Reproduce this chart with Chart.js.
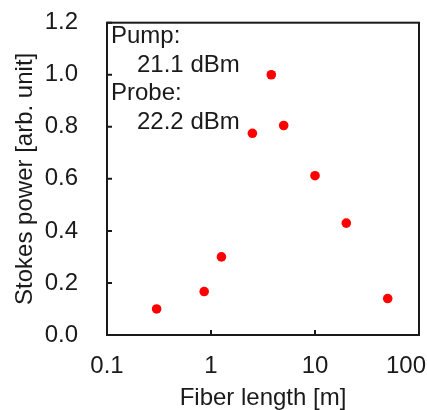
<!DOCTYPE html>
<html>
<head>
<meta charset="utf-8">
<script src="https://cdn.jsdelivr.net/npm/chart.js@4.4.1/dist/chart.umd.min.js"></script>
<style>
  html, body { margin: 0; padding: 0; background: #fff; }
  #wrap { width: 427px; height: 410px; }
</style>
</head>
<body>
<div id="wrap"><canvas id="stokesChart"></canvas></div>
<script>
// fiber length [m] and measured Stokes power
var fiberLength = [0.3, 0.86, 1.26, 2.5, 3.8, 5.0, 10, 20, 50];
var stokesPower = [0.10, 0.167, 0.30, 0.775, 1.0, 0.805, 0.612, 0.43, 0.14];
var xTicks = [0.1, 1, 10, 100];
var yTicks = [0, 0.2, 0.4, 0.6, 0.8, 1.0, 1.2];
var noteLines = ["Pump:", "21.1 dBm", "Probe:", "22.2 dBm"];

var fontFam = "'Liberation Sans', Arial, sans-serif";
var fontSize = 24;
var ink = '#1a1a1a';

// frame around the plot area plus inward tick marks
var frame = {
    id: 'frame',
    afterDatasetsDraw: function(chart) {
        var c = chart.ctx, a = chart.chartArea;
        var xs = chart.scales.x, ys = chart.scales.y;
        c.save();
        c.strokeStyle = ink;
        c.lineWidth = 2;
        c.beginPath();
        xTicks.forEach(function(v) {
            var px = xs.getPixelForValue(v);
            c.moveTo(px, a.bottom);
            c.lineTo(px, a.bottom - 5);
        });
        yTicks.forEach(function(v) {
            var py = ys.getPixelForValue(v);
            c.moveTo(a.left, py);
            c.lineTo(a.left + 5, py);
        });
        c.stroke();
        c.strokeRect(a.left, a.top, a.right - a.left, a.bottom - a.top);

        // x labels, kept inside the canvas at the right end
        c.fillStyle = ink;
        c.font = fontSize + 'px ' + fontFam;
        c.textBaseline = 'middle';
        c.textAlign = 'center';
        xTicks.forEach(function(v) {
            var t = String(v);
            var w = c.measureText(t).width;
            var px = Math.min(xs.getPixelForValue(v), chart.width - 1 - w / 2);
            c.fillText(t, px, a.bottom + 31);
        });
        c.restore();
    }
};

// pump / probe power note in the upper left corner
var note = {
    id: 'note',
    afterDraw: function(chart) {
        var c = chart.ctx, a = chart.chartArea;
        c.save();
        c.fillStyle = ink;
        c.font = fontSize + 'px ' + fontFam;
        c.textBaseline = 'middle';
        var indent = [0, 26, 0, 26];
        noteLines.forEach(function(t, i) {
            c.fillText(t, a.left + 4 + indent[i], a.top + 14 + i * 28.5);
        });
        c.restore();
    }
};

new Chart(document.getElementById('stokesChart').getContext('2d'), {
    type: 'scatter',
    data: {
        datasets: [{
            data: fiberLength.map(function(x, i) { return {x: x, y: stokesPower[i]}; }),
            backgroundColor: '#ff0000',
            borderColor: '#ff0000',
            pointRadius: 4.8,
            pointHoverRadius: 4.8,
            borderWidth: 0
        }]
    },
    options: {
        responsive: true,
        maintainAspectRatio: false,
        animation: false,
        layout: { padding: { left: 0, right: 8, top: 22.7, bottom: 0 } },
        plugins: {
            legend: { display: false },
            tooltip: { enabled: false }
        },
        scales: {
            x: {
                type: 'logarithmic',
                min: 0.1,
                max: 100,
                afterBuildTicks: function(s) { s.ticks = xTicks.map(function(v) { return {value: v}; }); },
                afterFit: function(s) { s.height = 75; s.paddingLeft = 0; s.paddingRight = 0; },
                grid: { display: false },
                border: { display: false },
                ticks: { display: false },
                title: {
                    display: true,
                    text: 'Fiber length [m]',
                    color: ink,
                    font: { family: fontFam, size: fontSize },
                    padding: { top: 0, bottom: -3 }
                }
            },
            y: {
                min: 0,
                max: 1.2,
                afterBuildTicks: function(s) { s.ticks = yTicks.map(function(v) { return {value: v}; }); },
                afterFit: function(s) { s.width = 107; s.paddingTop = 0; s.paddingBottom = 0; },
                grid: { display: false },
                border: { display: false },
                ticks: {
                    color: ink,
                    font: { family: fontFam, size: fontSize },
                    padding: 21,
                    callback: function(v) { return v.toFixed(1); }
                },
                title: {
                    display: true,
                    text: 'Stokes power [arb. unit]',
                    color: ink,
                    font: { family: fontFam, size: fontSize },
                    padding: { top: 11, bottom: 0 }
                }
            }
        }
    },
    plugins: [frame, note]
});
</script>
</body>
</html>
